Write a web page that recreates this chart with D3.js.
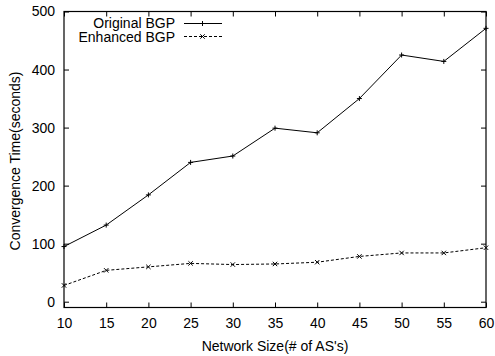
<!DOCTYPE html>
<html>
<head>
<meta charset="utf-8">
<script src="https://cdn.jsdelivr.net/npm/d3@7"></script>
<style>
  body { margin: 0; background: #fff; }
  text { font-family: "Liberation Sans", Arial, sans-serif; fill: #000; }
</style>
</head>
<body>
<svg id="chart" width="495" height="356"></svg>
<script>
// network sizes and convergence times
var sizes = [10, 15, 20, 25, 30, 35, 40, 45, 50, 55, 60];
var originalBGP = [95, 132, 184, 240, 251, 299, 291, 350, 425, 414, 471];
var enhancedBGP = [28, 54, 60, 66, 64, 65, 68, 78, 84, 84, 93];
var yTicks = [0, 100, 200, 300, 400, 500];

var svg = d3.select("#chart");
var plotL = 64, plotR = 486, plotT = 11.5, plotB = 307.5;
var fs = 14;

var x = d3.scaleLinear().domain([10, 60]).range([plotL, plotR]);
var y = d3.scaleLinear().domain([-10, 500]).range([plotB, plotT]);

// inward ticks on all sides, like gnuplot's mirrored border
var tickLen = 5;
svg.append("g").attr("transform", "translate(0," + plotB + ")")
    .call(d3.axisBottom(x).tickValues(sizes).tickSizeInner(-tickLen).tickSizeOuter(0).tickPadding(10.5))
    .call(g => g.select(".domain").remove());
svg.append("g").attr("transform", "translate(0," + plotT + ")")
    .call(d3.axisTop(x).tickValues(sizes).tickSizeInner(-tickLen).tickSizeOuter(0).tickFormat(""))
    .call(g => g.select(".domain").remove());
svg.append("g").attr("transform", "translate(" + plotL + ",0)")
    .call(d3.axisLeft(y).tickValues(yTicks).tickSizeInner(-tickLen).tickSizeOuter(0).tickPadding(9))
    .call(g => g.select(".domain").remove());
svg.append("g").attr("transform", "translate(" + plotR + ",0)")
    .call(d3.axisRight(y).tickValues(yTicks).tickSizeInner(-tickLen).tickSizeOuter(0).tickFormat(""))
    .call(g => g.select(".domain").remove());

svg.selectAll(".tick text").attr("font-size", fs).attr("font-family", "Liberation Sans, Arial, sans-serif");
svg.selectAll(".tick line").attr("stroke", "#000");

svg.append("rect")
    .attr("x", plotL).attr("y", plotT)
    .attr("width", plotR - plotL).attr("height", plotB - plotT)
    .attr("fill", "none").attr("stroke", "#000").attr("stroke-width", 1.2);

var line = d3.line().x(d => x(d[0])).y(d => y(d[1]));

function plus(g, cx, cy) {
  g.append("path").attr("d", "M" + (cx - 2.5) + "," + cy + "h5M" + cx + "," + (cy - 2.5) + "v5")
      .attr("stroke", "#000").attr("stroke-width", 1);
}
function cross(g, cx, cy) {
  g.append("path").attr("d", "M" + (cx - 2.2) + "," + (cy - 2.2) + "l4.4,4.4M" + (cx - 2.2) + "," + (cy + 2.2) + "l4.4,-4.4")
      .attr("stroke", "#000").attr("stroke-width", 1);
}

var orig = sizes.map((s, i) => [s, originalBGP[i]]);
var enh = sizes.map((s, i) => [s, enhancedBGP[i]]);

svg.append("path").datum(orig).attr("d", line)
    .attr("fill", "none").attr("stroke", "#000").attr("stroke-width", 1);
svg.append("path").datum(enh).attr("d", line)
    .attr("fill", "none").attr("stroke", "#000").attr("stroke-width", 1).attr("stroke-dasharray", "3,2");

var marks = svg.append("g");
orig.forEach(d => plus(marks, x(d[0]), y(d[1])));
enh.forEach(d => cross(marks, x(d[0]), y(d[1])));

// legend
var leg = svg.append("g");
leg.append("text").attr("x", 175).attr("y", 28.3).attr("text-anchor", "end").attr("font-size", fs).text("Original BGP");
leg.append("line").attr("x1", 184).attr("x2", 222).attr("y1", 23.5).attr("y2", 23.5).attr("stroke", "#000");
plus(leg, 202.5, 23.5);
leg.append("text").attr("x", 175).attr("y", 41.7).attr("text-anchor", "end").attr("font-size", fs).text("Enhanced BGP");
leg.append("line").attr("x1", 184).attr("x2", 222).attr("y1", 36.5).attr("y2", 36.5)
    .attr("stroke", "#000").attr("stroke-dasharray", "3,2");
cross(leg, 202.5, 36.5);

// axis titles
svg.append("text").attr("x", (plotL + plotR) / 2).attr("y", 351).attr("text-anchor", "middle")
    .attr("font-size", fs).text("Network Size(# of AS's)");
svg.append("text").attr("transform", "translate(20,161) rotate(-90)")
    .attr("text-anchor", "middle").attr("font-size", fs).text("Convergence Time(seconds)");
</script>
</body>
</html>
